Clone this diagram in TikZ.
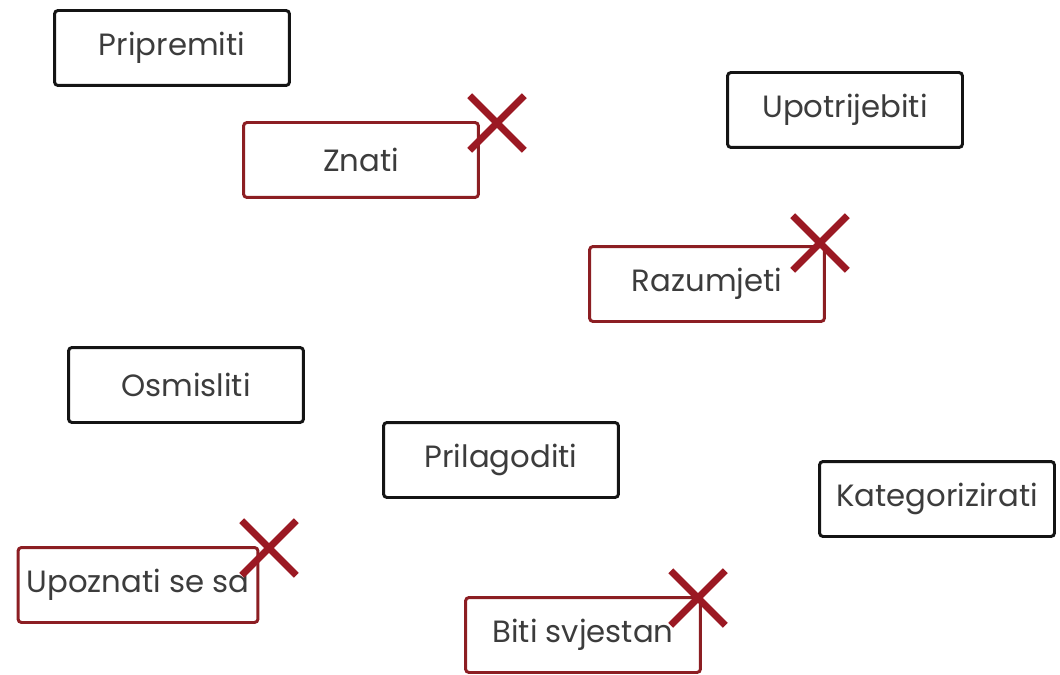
\documentclass[tikz,border=0pt]{standalone}
\usepackage{fontspec}
\setmainfont{Poppins}
\usetikzlibrary{shapes.misc}
\definecolor{inkblack}{RGB}{20,20,20}
\definecolor{inkred}{RGB}{140,30,35}
\definecolor{crossred}{RGB}{155,25,35}
\definecolor{textgrey}{RGB}{60,60,60}
\tikzset{
    verb/.style={
        draw=#1,line width=1.7pt,rounded corners=2pt,
        minimum width=4.7cm,minimum height=1.5cm,inner sep=0pt,
        align=center,text=textgrey,font=\fontsize{17.5}{21}\selectfont
    },
    verb/.default=inkblack,
    crossx/.style={
        cross out,draw=crossred,line width=4pt,
        minimum size=0.95cm,inner sep=0pt
    }
}
\begin{document}
\begin{tikzpicture}[x=0.02cm,y=-0.02cm]
\useasboundingbox (0,0) rectangle (1060,675);

% black boxes
\node[verb] (pripremiti) at (172,48) {Pripremiti};
\node[verb] (upotrijebiti) at (845,110) {Upotrijebiti};
\node[verb] (osmisliti) at (186,385) {Osmisliti};
\node[verb] (prilagoditi) at (501,460) {Prilagoditi};
\node[verb] (kategorizirati) at (937,499) {Kategorizirati};

% red boxes
\node[verb=inkred] (znati) at (361,160) {Znati};
\node[verb=inkred] (razumjeti) at (707,284) {Razumjeti};
\node[verb=inkred,minimum width=4.8cm] (upoznati) at (138,585) {Upoznati se sa};
\node[verb=inkred] (biti) at (583,635) {Biti svjestan};

% crosses
\node[crossx] (xznati) at (497,123) {};
\node[crossx] (xrazumjeti) at (820,243) {};
\node[crossx] (xupoznati) at (269,548) {};
\node[crossx] (xbiti) at (698,598) {};

\end{tikzpicture}
\end{document}
